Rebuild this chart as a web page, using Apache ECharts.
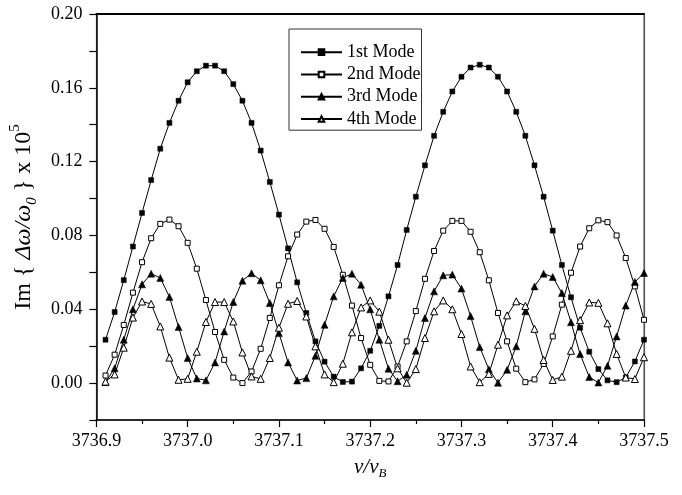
<!DOCTYPE html>
<html>
<head>
<meta charset="utf-8">
<script src="https://cdn.jsdelivr.net/npm/echarts@6/dist/echarts.min.js"></script>
<style>
html,body{margin:0;padding:0;background:#fff;}
#chart{width:682px;height:495px;}
</style>
</head>
<body>
<div id="chart"></div>
<script>
const xVals = [
  3736.91,3736.92,3736.93,3736.94,3736.95,3736.96,3736.97,3736.98,3736.99,3737.00,
  3737.01,3737.02,3737.03,3737.04,3737.05,3737.06,3737.07,3737.08,3737.09,3737.10,
  3737.11,3737.12,3737.13,3737.14,3737.15,3737.16,3737.17,3737.18,3737.19,3737.20,
  3737.21,3737.22,3737.23,3737.24,3737.25,3737.26,3737.27,3737.28,3737.29,3737.30,
  3737.31,3737.32,3737.33,3737.34,3737.35,3737.36,3737.37,3737.38,3737.39,3737.40,
  3737.41,3737.42,3737.43,3737.44,3737.45,3737.46,3737.47,3737.48,3737.49,3737.50
];
const mode1 = [
  0.0235,0.0385,0.0558,0.074,0.0922,0.110,0.127,0.141,0.153,0.163,
  0.169,0.172,0.172,0.169,0.162,0.153,0.141,0.126,0.109,0.0913,
  0.073,0.0546,0.038,0.0226,0.0116,0.0035,0.0006,0.0008,0.008,0.0175,
  0.031,0.047,0.064,0.083,0.101,0.118,0.134,0.147,0.158,0.166,
  0.171,0.1725,0.171,0.166,0.158,0.147,0.134,0.118,0.101,0.0826,
  0.064,0.0465,0.030,0.017,0.0076,0.0015,0.0005,0.003,0.0117,0.0235
];
const mode2 = [
  0.0041,0.0154,0.0315,0.049,0.0655,0.0785,0.0863,0.0886,0.085,0.076,
  0.062,0.045,0.0277,0.0126,0.003,0.0,0.0063,0.0186,0.0353,0.053,
  0.0687,0.0805,0.0875,0.0884,0.0836,0.0738,0.0587,0.042,0.0244,0.0099,
  0.0012,0.0009,0.009,0.0226,0.039,0.0565,0.0716,0.0826,0.0879,0.0879,
  0.082,0.0709,0.0557,0.038,0.0226,0.0078,0.0005,0.002,0.0104,0.0253,
  0.0425,0.0598,0.074,0.0839,0.0882,0.0872,0.080,0.0678,0.0524,0.0343
];
const mode3 = [
  0.0005,0.008,0.0235,0.040,0.0535,0.0593,0.057,0.0467,0.0304,0.0136,
  0.0025,0.0015,0.0112,0.028,0.044,0.0555,0.0595,0.0557,0.0434,0.0271,
  0.0112,0.0014,0.0027,0.0148,0.0316,0.047,0.057,0.0593,0.0533,0.040,
  0.0235,0.0078,0.001,0.0045,0.0175,0.0353,0.0497,0.0584,0.0588,0.0512,
  0.0363,0.0195,0.0075,0.0002,0.0072,0.0199,0.0389,0.0524,0.0593,0.0575,
  0.0488,0.033,0.0157,0.0033,0.0003,0.0094,0.0253,0.042,0.0548,0.0597
];
const mode4 = [
  0.0008,0.0047,0.0192,0.0355,0.0442,0.0429,0.0307,0.0138,0.0018,0.0023,
  0.017,0.0331,0.0439,0.0439,0.0334,0.0166,0.0036,0.0023,0.0136,0.030,
  0.043,0.0445,0.0361,0.0199,0.0047,0.0005,0.0105,0.0275,0.041,0.0448,
  0.0387,0.0235,0.008,0.0002,0.0076,0.0244,0.0389,0.0448,0.040,0.0266,
  0.009,0.0005,0.005,0.0208,0.0367,0.0443,0.0418,0.0294,0.0125,0.0017,
  0.0035,0.0175,0.0341,0.0437,0.0435,0.0324,0.0158,0.003,0.0022,0.014
];
const seriesNames = ['1st Mode','2nd Mode','3rd Mode','4th Mode'];
const xTicks = {min: 3736.9, max: 3737.5, interval: 0.1};
const yTicks = {min: -0.02, max: 0.20, interval: 0.02};

const FONT = '"Liberation Serif","DejaVu Serif",serif';
const pairs = arr => xVals.map((x, i) => [x, arr[i]]);

const mk = (name, arr, symbol, size, filled) => ({
  name: name,
  type: 'line',
  data: pairs(arr),
  symbol: symbol,
  symbolSize: size,
  showAllSymbol: true,
  smooth: false,
  lineStyle: {color: '#000', width: 1},
  itemStyle: filled ? {color: '#000', borderColor: '#000', borderWidth: 0.5}
                    : {color: '#fff', borderColor: '#000', borderWidth: 1},
  emphasis: {disabled: true},
  z: 3
});

const chart = echarts.init(document.getElementById('chart'), null, {renderer: 'canvas'});
chart.setOption({
  backgroundColor: '#fff',
  animation: false,
  grid: {left: 96, right: 38, top: 14, bottom: 75, show: true, borderColor: '#555', borderWidth: 1, backgroundColor: 'transparent'},
  legend: {
    left: 289, top: 29,
    orient: 'vertical',
    data: seriesNames,
    itemWidth: 41, itemHeight: 7, itemGap: 0,
    padding: [12, 1, 0, 11],
    borderColor: '#333', borderWidth: 1,
    textStyle: {fontFamily: FONT, fontSize: 18, color: '#000', lineHeight: 22.3, padding: [0, 0, 0, 0]},
    backgroundColor: '#fff'
  },
  xAxis: [{
    type: 'value',
    min: xTicks.min, max: xTicks.max, interval: xTicks.interval,
    axisLine: {show: true, onZero: false, lineStyle: {color: '#000', width: 1.5}},
    axisTick: {show: true, inside: false, length: 7, lineStyle: {color: '#000', width: 1.2}},
    minorTick: {show: true, splitNumber: 2, length: 4, lineStyle: {color: '#000', width: 1.2}},
    splitLine: {show: false},
    axisLabel: {fontFamily: FONT, fontSize: 18, color: '#000', margin: 12, formatter: v => v.toFixed(1)},
    name: '{n|ν/ν}{s|B}',
    nameLocation: 'middle',
    nameGap: 34,
    nameTextStyle: {
      rich: {
        n: {fontFamily: FONT, fontStyle: 'italic', fontSize: 21, color: '#000', lineHeight: 26},
        s: {fontFamily: FONT, fontStyle: 'italic', fontSize: 13, color: '#000', lineHeight: 13, verticalAlign: 'bottom'}
      }
    }
  }, {
    type: 'value', position: 'top',
    min: xTicks.min, max: xTicks.max, interval: xTicks.interval,
    axisLine: {show: true, onZero: false, lineStyle: {color: '#000', width: 2}},
    axisTick: {show: false}, axisLabel: {show: false}, splitLine: {show: false}
  }],
  yAxis: [{
    type: 'value',
    min: yTicks.min, max: yTicks.max, interval: yTicks.interval,
    axisLine: {show: true, onZero: false, lineStyle: {color: '#000', width: 1.5}},
    axisTick: {show: true, inside: false, length: 7, lineStyle: {color: '#000', width: 1.2}},
    splitLine: {show: false},
    axisLabel: {
      fontFamily: FONT, fontSize: 18, color: '#000', margin: 14,
      formatter: v => {
        const k = Math.round(v * 100);
        if (k < 0 || k % 4 !== 0) return '';
        return (k / 100).toFixed(2);
      }
    },
    name: 'Im { {i|Δω/ω}{sub|0} } x 10{sup|5}',
    nameLocation: 'middle',
    nameRotate: 90,
    nameGap: 54,
    nameTextStyle: {
      fontFamily: FONT, fontSize: 24, color: '#000', lineHeight: 32,
      rich: {
        i: {fontFamily: FONT, fontStyle: 'italic', fontSize: 24, color: '#000', lineHeight: 32},
        sub: {fontFamily: FONT, fontStyle: 'italic', fontSize: 15, color: '#000', lineHeight: 15, verticalAlign: 'bottom'},
        sup: {fontFamily: FONT, fontSize: 15, color: '#000', lineHeight: 15, verticalAlign: 'top'}
      }
    }
  }, {
    type: 'value', position: 'right',
    min: yTicks.min, max: yTicks.max, interval: yTicks.interval,
    axisLine: {show: true, onZero: false, lineStyle: {color: '#555', width: 1.2}},
    axisTick: {show: false}, axisLabel: {show: false}, splitLine: {show: false}
  }],
  series: [
    mk(seriesNames[0], mode1, 'rect', 5, true),
    mk(seriesNames[1], mode2, 'rect', 5, false),
    mk(seriesNames[2], mode3, 'triangle', 7, true),
    mk(seriesNames[3], mode4, 'triangle', 7, false)
  ]
});
</script>
</body>
</html>
